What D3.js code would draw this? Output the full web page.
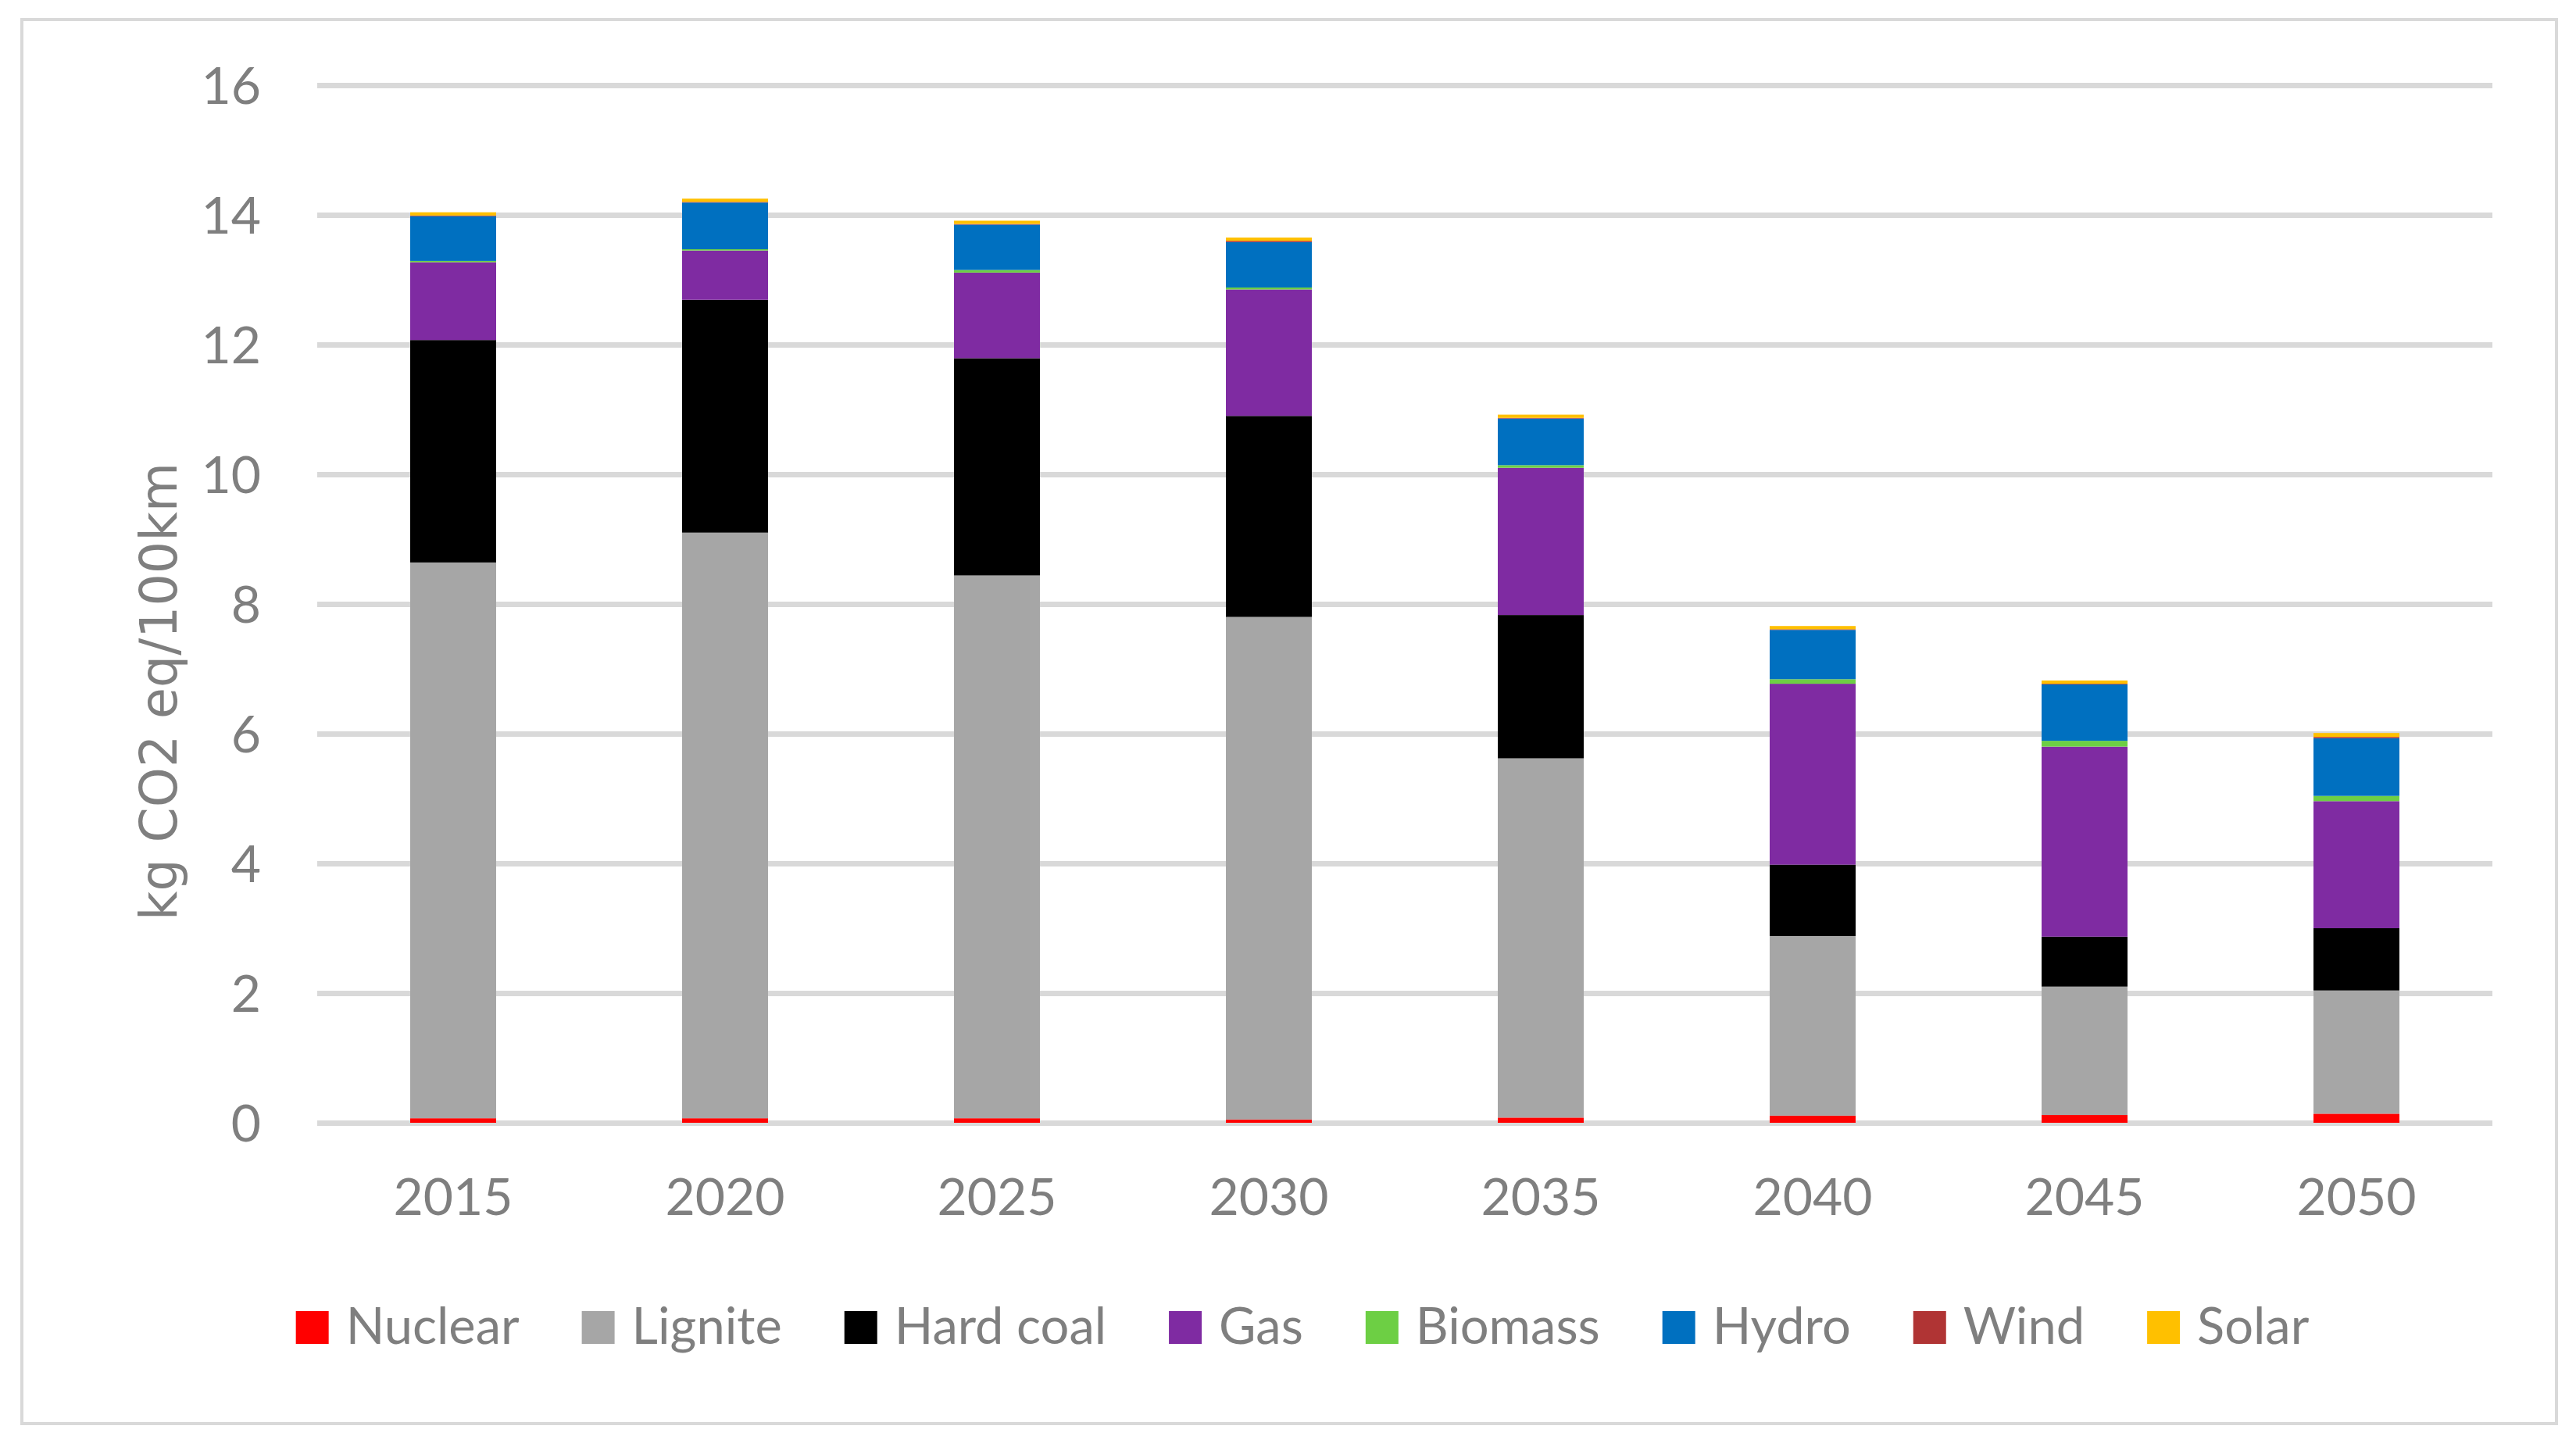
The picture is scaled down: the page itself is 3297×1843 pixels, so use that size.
<!DOCTYPE html>
<html>
<head>
<meta charset="utf-8">
<script src="https://cdn.jsdelivr.net/npm/d3@7"></script>
<style>
  html, body { margin: 0; padding: 0; background: #ffffff; }
  svg { display: block; }
</style>
</head>
<body>
<svg id="chart" width="3297" height="1843"></svg>
<script>
// ---- Data ----
const years = ["2015", "2020", "2025", "2030", "2035", "2040", "2045", "2050"];
const seriesNames = ["Nuclear", "Lignite", "Hard coal", "Gas", "Biomass", "Hydro", "Wind", "Solar"];
const nuclear  = [0.07, 0.07, 0.07, 0.05, 0.08, 0.11, 0.12, 0.14];
const lignite  = [8.57, 9.03, 8.37, 7.75, 5.54, 2.77, 1.98, 1.90];
const hardCoal = [3.43, 3.59, 3.35, 3.10, 2.21, 1.10, 0.77, 0.96];
const gas      = [1.20, 0.76, 1.32, 1.95, 2.27, 2.79, 2.93, 1.96];
const biomass  = [0.02, 0.02, 0.04, 0.03, 0.04, 0.07, 0.09, 0.08];
const hydro    = [0.69, 0.72, 0.70, 0.70, 0.72, 0.76, 0.87, 0.89];
const wind     = [0.01, 0.01, 0.01, 0.02, 0.01, 0.01, 0.01, 0.02];
const solar    = [0.05, 0.05, 0.05, 0.05, 0.05, 0.05, 0.05, 0.06];
const yTicks   = [0, 2, 4, 6, 8, 10, 12, 14, 16];
const colors   = ["#ff0000", "#a6a6a6", "#000000", "#7f2ba2", "#6dcf44", "#0070c0", "#b03434", "#ffc000"];
const yTitle   = "kg CO2 eq/100km";

const seriesValues = [nuclear, lignite, hardCoal, gas, biomass, hydro, wind, solar];
const table = years.map((y, i) => {
  const row = { year: y };
  seriesNames.forEach((s, j) => row[s] = seriesValues[j][i]);
  return row;
});

// ---- Layout ----
const svg = d3.select("#chart");
const W = 3297, H = 1843;
const plot = { left: 406, right: 3190, top: 109, bottom: 1437 };
const textColor = "#7f7f7f";
const mainFont = "Lato, 'Open Sans', sans-serif";

svg.append("rect").attr("width", W).attr("height", H).attr("fill", "#ffffff");
svg.append("rect")
  .attr("x", 28).attr("y", 25).attr("width", 3244).attr("height", 1797)
  .attr("fill", "none").attr("stroke", "#d9d9d9").attr("stroke-width", 4);

const x = d3.scaleBand().domain(years).range([plot.left, plot.right])
  .paddingInner(0.684).paddingOuter(0.342);
const y = d3.scaleLinear().domain([0, 16]).range([plot.bottom, plot.top]);

// gridlines + y axis
const yAxis = d3.axisLeft(y).tickValues(yTicks).tickSize(-(plot.right - plot.left)).tickPadding(72);
const gy = svg.append("g").attr("transform", `translate(${plot.left},0)`).call(yAxis);
gy.select(".domain").remove();
gy.selectAll(".tick line").attr("stroke", "#d9d9d9").attr("stroke-width", 7);
gy.selectAll(".tick text")
  .attr("fill", textColor).attr("font-family", mainFont).attr("font-size", 66)
  .attr("dy", "0.36em");

// stacked bars
const stack = d3.stack().keys(seriesNames);
const layers = stack(table);
svg.append("g").selectAll("g").data(layers).join("g")
  .attr("fill", (d, i) => colors[i])
  .selectAll("rect").data(d => d).join("rect")
  .attr("x", d => x(d.data.year))
  .attr("width", x.bandwidth())
  .attr("y", d => y(d[1]))
  .attr("height", d => y(d[0]) - y(d[1]));

// x axis
const xAxis = d3.axisBottom(x).tickSize(0).tickPadding(71);
const gx = svg.append("g").attr("transform", `translate(0,${plot.bottom})`).call(xAxis);
gx.select(".domain").remove();
gx.selectAll(".tick text")
  .attr("fill", textColor).attr("font-family", mainFont).attr("font-size", 66);

// y title
svg.append("text")
  .attr("transform", `translate(226,885) rotate(-90)`)
  .attr("text-anchor", "middle")
  .attr("fill", textColor)
  .attr("font-family", "'DejaVu Sans', sans-serif")
  .attr("font-size", 65)
  .text(yTitle);

// legend
const legend = svg.append("g");
const items = legend.selectAll("g").data(seriesNames).join("g");
items.append("rect").attr("width", 42).attr("height", 42).attr("y", -42)
  .attr("fill", (d, i) => colors[i]);
items.append("text").attr("x", 64).attr("y", 0)
  .attr("fill", textColor).attr("font-family", mainFont).attr("font-size", 65)
  .text(d => d);
const gap = 80;
const widths = [];
items.each(function() {
  const t = d3.select(this).select("text").node();
  widths.push(64 + t.getComputedTextLength());
});
const total = d3.sum(widths) + gap * (widths.length - 1);
const startX = 1667 - total / 2;
items.attr("transform", (d, i) => {
  const px = startX + d3.sum(widths.slice(0, i)) + gap * i;
  return `translate(${px},1720)`;
});
</script>
</body>
</html>
